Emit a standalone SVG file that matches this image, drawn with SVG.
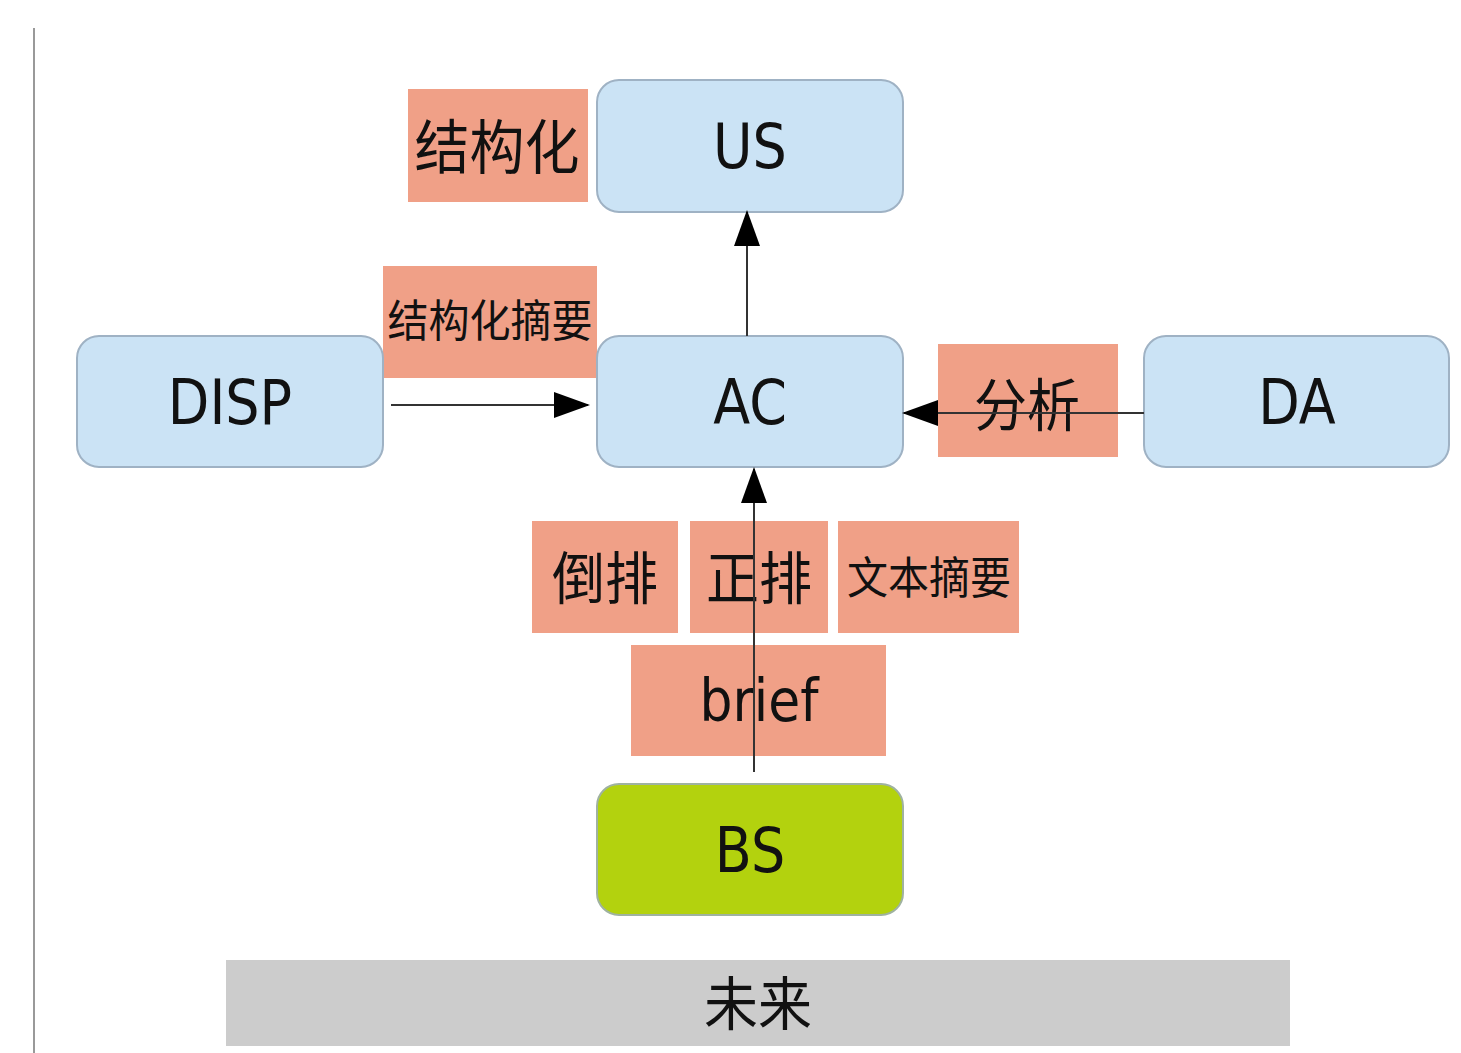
<svg xmlns="http://www.w3.org/2000/svg" width="1461" height="1053" viewBox="0 0 1461 1053">
<style>
.node{fill:#cbe3f5;stroke:#9fb2c4;stroke-width:2}
.bs{fill:#b3d20e;stroke:#9fb2a0;stroke-width:2}
.lbl{fill:#f0a087}
.bar{fill:#cccccc}
.lat{font-family:"DejaVu Sans","Liberation Sans",sans-serif;fill:#111;text-anchor:middle}
.cjk{font-family:"Noto Sans CJK SC","DejaVu Sans",sans-serif;fill:#111;text-anchor:middle}
.con{stroke:#333;stroke-width:2;fill:none}
</style>
<defs>
<marker id="ah" markerWidth="36" markerHeight="26" refX="34" refY="13" orient="auto" markerUnits="userSpaceOnUse">
<path d="M0,0 L36,13 L0,26 Z" fill="#000"/>
</marker>
</defs>
<rect width="1461" height="1053" fill="#ffffff"/>
<line x1="34" y1="28" x2="34" y2="1053" stroke="#999" stroke-width="2"/>

<g id="label-future"><rect class="bar" x="226" y="960" width="1064" height="86"/><text class="cjk" transform="translate(758,1025) scale(1,1.08)" font-size="54">未来</text></g>

<g id="label-structured"><rect class="lbl" x="408" y="89" width="180" height="113"/><text class="cjk" transform="translate(497,169) scale(1,1.08)" font-size="55">结构化</text></g>
<g id="label-structured-summary"><rect class="lbl" x="383" y="266" width="214" height="112"/><text class="cjk" transform="translate(490,337) scale(1,1.08)" font-size="41">结构化摘要</text></g>
<g id="label-analysis"><rect class="lbl" x="938" y="344" width="180" height="113"/><text class="cjk" transform="translate(1027,426) scale(1,1.08)" font-size="53">分析</text></g>
<g id="label-inverted"><rect class="lbl" x="532" y="521" width="146" height="112"/><text class="cjk" transform="translate(605,599) scale(1,1.08)" font-size="53">倒排</text></g>
<g id="label-forward"><rect class="lbl" x="690" y="521" width="138" height="112"/><text class="cjk" transform="translate(759,599) scale(1,1.08)" font-size="53">正排</text></g>
<g id="label-text-summary"><rect class="lbl" x="838" y="521" width="181" height="112"/><text class="cjk" transform="translate(929,594) scale(1,1.08)" font-size="41">文本摘要</text></g>
<g id="label-brief"><rect class="lbl" x="631" y="645" width="255" height="111"/><text class="lat" transform="translate(759,721) scale(1,1.12)" font-size="52">brief</text></g>

<g id="node-US"><rect class="node" x="597" y="80" width="306" height="132" rx="22"/><text class="lat" transform="translate(750,168) scale(1,1.15)" font-size="54">US</text></g>
<g id="node-DISP"><rect class="node" x="77" y="336" width="306" height="131" rx="22"/><text class="lat" transform="translate(230,424) scale(1,1.15)" font-size="54">DISP</text></g>
<g id="node-AC"><rect class="node" x="597" y="336" width="306" height="131" rx="22"/><text class="lat" transform="translate(750,424) scale(1,1.15)" font-size="54">AC</text></g>
<g id="node-DA"><rect class="node" x="1144" y="336" width="305" height="131" rx="22"/><text class="lat" transform="translate(1297,424) scale(1,1.15)" font-size="54">DA</text></g>
<g id="node-BS"><rect class="bs" x="597" y="784" width="306" height="131" rx="22"/><text class="lat" transform="translate(750,872) scale(1,1.15)" font-size="54">BS</text></g>

<g id="connectors">
<line class="con" x1="747" y1="336" x2="747" y2="212" marker-end="url(#ah)"/>
<line class="con" x1="391" y1="405" x2="588" y2="405" marker-end="url(#ah)"/>
<line class="con" x1="1144" y1="413" x2="904" y2="413" marker-end="url(#ah)"/>
<line class="con" x1="754" y1="772" x2="754" y2="469" marker-end="url(#ah)"/>
</g>
</svg>
